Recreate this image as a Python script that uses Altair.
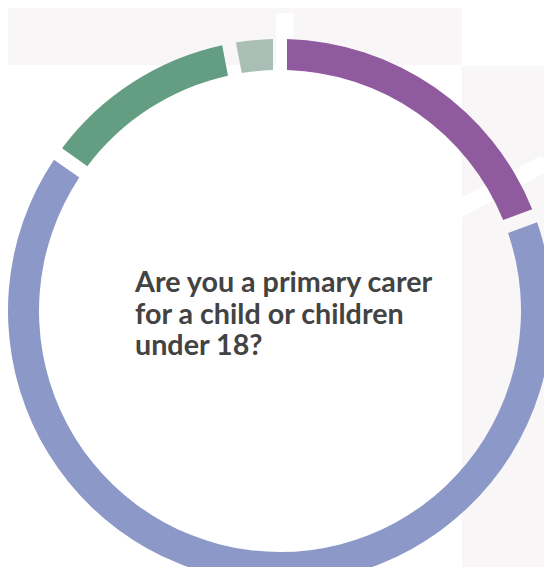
import altair as alt
import pandas as pd

# Data (share of respondents, %)
categories = ["Yes", "No", "Prefer not to say", "Not answered"]
values = [19.3, 65.5, 12.2, 3.0]
colors = ["#8f5b9e", "#8c98c8", "#649e82", "#a9bfb6"]
question_lines = ["Are you a primary carer", "for a child or children", "under 18?"]

df = pd.DataFrame({"category": categories, "value": values, "order": list(range(len(categories)))})
one = pd.DataFrame({"a": [0]})

W, H = 536, 559
CX, CY = 272, 303
R_OUT, R_IN = 272, 241
BAND = "#f8f6f7"

top_band = alt.Chart(one).mark_rect(color=BAND).encode(
    x=alt.value(0), x2=alt.value(454), y=alt.value(0), y2=alt.value(57)
)
right_band = alt.Chart(one).mark_rect(color=BAND).encode(
    x=alt.value(454), x2=alt.value(W), y=alt.value(58), y2=alt.value(H)
)

top_stripe = alt.Chart(one).mark_rule(color="white", strokeWidth=17, strokeCap="butt").encode(
    x=alt.value(276.5), x2=alt.value(276.5), y=alt.value(5), y2=alt.value(80)
)
right_stripe = alt.Chart(one).mark_rule(color="white", strokeWidth=17, strokeCap="butt").encode(
    x=alt.value(538), x2=alt.value(420), y=alt.value(154.5), y2=alt.value(217.5)
)

arcs = alt.Chart(df).mark_arc(padAngle=0.0385).encode(
    theta=alt.Theta("value:Q", stack=True),
    color=alt.Color("category:N", scale=alt.Scale(domain=categories, range=colors), legend=None),
    order=alt.Order("order:Q"),
    x=alt.value(CX),
    y=alt.value(CY),
    radius=alt.value(R_OUT),
    radius2=alt.value(R_IN),
)

label = alt.Chart(one).mark_text(
    text=question_lines,
    align="left",
    baseline="alphabetic",
    font="Lato",
    fontWeight="bold",
    fontSize=28.7,
    lineHeight=31.7,
    color="#434343",
).encode(x=alt.value(127), y=alt.value(284))

chart = (
    alt.layer(top_band, right_band, top_stripe, right_stripe, arcs, label)
    .properties(width=W, height=H, padding=0, autosize=alt.AutoSizeParams(type="none"))
    .configure_view(stroke=None)
)

chart.save("out.html", embed_options={"renderer": "svg", "actions": False})
